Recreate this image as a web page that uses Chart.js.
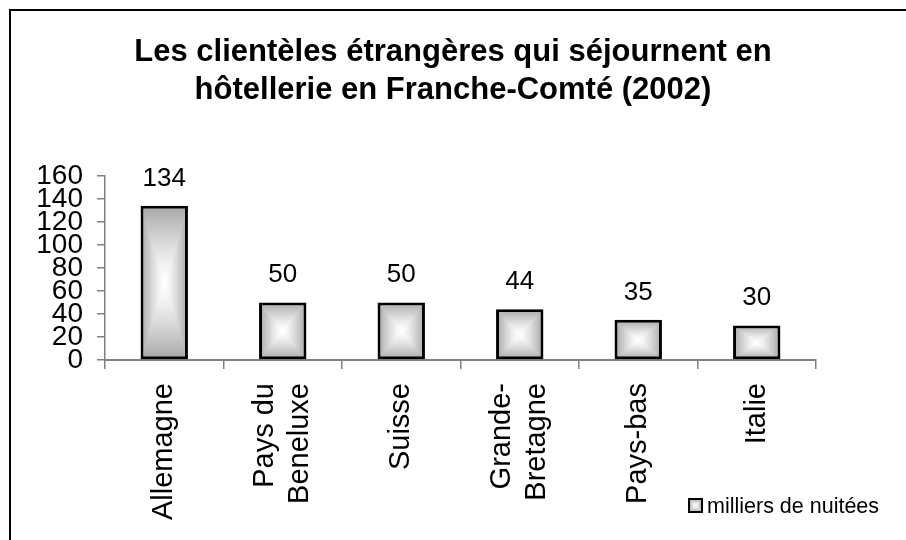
<!DOCTYPE html>
<html>
<head>
<meta charset="utf-8">
<script src="https://cdn.jsdelivr.net/npm/chart.js@4/dist/chart.umd.min.js"></script>
<style>
  html, body { margin: 0; padding: 0; background: #fff; }
  #wrap { width: 906px; height: 540px; position: relative; }
</style>
</head>
<body>
<div id="wrap"><canvas id="chart"></canvas></div>
<script>
const FONT = '"Liberation Sans", Arial, sans-serif';

const titleLines = ['Les clientèles étrangères qui séjournent en', 'hôtellerie en Franche-Comté (2002)'];
const countries = ['Allemagne', ['Pays du', 'Beneluxe'], 'Suisse', ['Grande-', 'Bretagne'], 'Pays-bas', 'Italie'];
const nights = [134, 50, 50, 44, 35, 30];   // milliers de nuitées
const seriesName = 'milliers de nuitées';
const yTicks = [0, 20, 40, 60, 80, 100, 120, 140, 160];

const CAT_PCT = 0.5, BAR_PCT = 0.8;

// --- "from center" grey gradient, like the old spreadsheet fill ---
function boxGradientCanvas(w, h) {
  w = Math.max(1, Math.round(w)); h = Math.max(1, Math.round(h));
  const c = document.createElement('canvas');
  c.width = w; c.height = h;
  const g = c.getContext('2d');
  const img = g.createImageData(w, h);
  const hw = w / 2, hh = h / 2;
  for (let y = 0; y < h; y++) {
    for (let x = 0; x < w; x++) {
      const t = Math.min(1, Math.max(Math.abs(x + 0.5 - hw) / hw, Math.abs(y + 0.5 - hh) / hh));
      const v = Math.round(255 - (255 - 166) * Math.pow(t, 1.3));
      const i = (y * w + x) * 4;
      img.data[i] = img.data[i + 1] = img.data[i + 2] = v;
      img.data[i + 3] = 255;
    }
  }
  g.putImageData(img, 0, 0);
  return c;
}

function barFill(ctx) {
  const chart = ctx.chart;
  const xs = chart.scales.x, ys = chart.scales.y;
  if (ctx.type !== 'data' || !xs || !ys || !chart.chartArea) return '#c0c0c0';
  const cx = xs.getPixelForValue(ctx.dataIndex);
  const w = xs.width / countries.length * CAT_PCT * BAR_PCT;
  const top = ys.getPixelForValue(ctx.raw);
  const base = ys.getPixelForValue(0);
  const pat = chart.ctx.createPattern(boxGradientCanvas(w, base - top), 'no-repeat');
  pat.setTransform(new DOMMatrix([1, 0, 0, 1, Math.round(cx - w / 2), Math.round(top)]));
  return pat;
}

// --- plugins: frame, category labels, value labels, legend ---
const frame = {
  id: 'frame',
  beforeDraw(chart) {
    const c = chart.ctx;
    c.save();
    c.strokeStyle = '#000';
    c.lineWidth = 2;
    c.beginPath();
    c.moveTo(10, chart.height);
    c.lineTo(10, 10);
    c.lineTo(chart.width, 10);
    c.stroke();
    c.restore();
  }
};

// vertical category labels, multi-line ones centred on their tick
const categoryLabels = {
  id: 'categoryLabels',
  afterDraw(chart) {
    const c = chart.ctx;
    const xs = chart.scales.x;
    const lh = 35;
    const yTop = xs.top + 23;
    c.save();
    c.font = '29px ' + FONT;
    c.fillStyle = '#000';
    c.textAlign = 'right';
    c.textBaseline = 'middle';
    countries.forEach((lab, i) => {
      const lines = Array.isArray(lab) ? lab : [lab];
      const x = xs.getPixelForValue(i);
      lines.forEach((line, j) => {
        c.save();
        c.translate(x + (j - (lines.length - 1) / 2) * lh, yTop);
        c.rotate(-Math.PI / 2);
        c.fillText(line, 0, 0);
        c.restore();
      });
    });
    c.restore();
  }
};

const valueLabels = {
  id: 'valueLabels',
  afterDatasetsDraw(chart) {
    const c = chart.ctx;
    const meta = chart.getDatasetMeta(0);
    c.save();
    c.font = '26px ' + FONT;
    c.fillStyle = '#000';
    c.textAlign = 'center';
    c.textBaseline = 'alphabetic';
    meta.data.forEach((bar, i) => {
      c.fillText(String(nights[i]), bar.x, bar.y - 20);
    });
    c.restore();
  }
};

const cornerLegend = {
  id: 'cornerLegend',
  afterDraw(chart) {
    const c = chart.ctx;
    const bx = 689, by = 499, s = 13;
    c.save();
    c.drawImage(boxGradientCanvas(s, s), bx, by);
    c.strokeStyle = '#000';
    c.lineWidth = 2;
    c.strokeRect(bx, by, s, s);
    c.font = '21.5px ' + FONT;
    c.fillStyle = '#000';
    c.textBaseline = 'alphabetic';
    c.fillText(seriesName, bx + s + 5, by + s + 1);
    c.restore();
  }
};

new Chart(document.getElementById('chart'), {
  type: 'bar',
  data: {
    labels: countries,
    datasets: [{
      label: seriesName,
      data: nights,
      backgroundColor: barFill,
      borderColor: '#000',
      borderWidth: 3,
      borderSkipped: false,
      categoryPercentage: CAT_PCT,
      barPercentage: BAR_PCT
    }]
  },
  options: {
    responsive: true,
    maintainAspectRatio: false,
    animation: false,
    events: [],
    layout: { padding: 0 },
    plugins: {
      legend: { display: false },
      tooltip: { enabled: false },
      title: {
        display: true,
        text: titleLines,
        color: '#000',
        font: { family: FONT, size: 31, weight: 'bold', lineHeight: 1.24 },
        padding: { top: 33, bottom: 66 }
      }
    },
    scales: {
      x: {
        grid: { offset: true, drawOnChartArea: false, drawTicks: true, tickLength: 9, color: '#808080', lineWidth: 1.5 },
        border: { color: '#808080', width: 2 },
        ticks: { display: false },
        afterFit(scale) { scale.height = 180; }
      },
      y: {
        min: 0,
        max: 160,
        afterBuildTicks(scale) { scale.ticks = yTicks.map(v => ({ value: v })); },
        grid: { drawOnChartArea: false, drawTicks: true, tickLength: 8, color: '#808080', lineWidth: 1.5 },
        border: { color: '#808080', width: 1.5 },
        ticks: {
          color: '#000',
          font: { family: FONT, size: 28, lineHeight: 1 },
          autoSkip: false,
          padding: 14
        },
        afterFit(scale) { scale.width = 105; }
      },
      // empty space on the right, keeps the plot clear of the legend corner
      rightGap: {
        type: 'linear',
        position: 'right',
        grid: { display: false },
        border: { display: false },
        ticks: { display: false },
        afterFit(scale) { scale.width = 90; }
      }
    }
  },
  plugins: [frame, categoryLabels, valueLabels, cornerLegend]
});
</script>
</body>
</html>
